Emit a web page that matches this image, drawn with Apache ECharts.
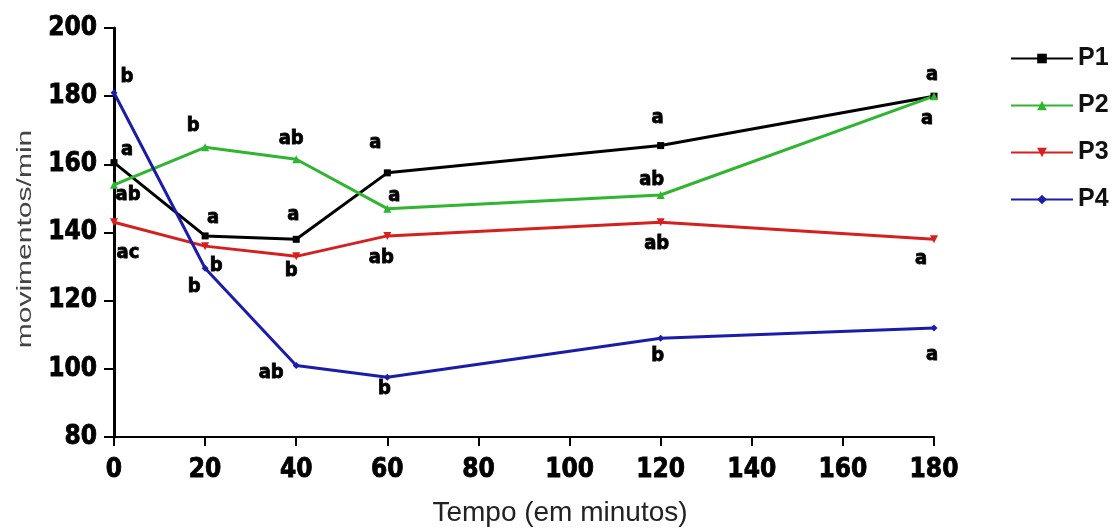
<!DOCTYPE html>
<html>
<head>
<meta charset="utf-8">
<script src="https://cdn.jsdelivr.net/npm/echarts@6/dist/echarts.min.js"></script>
<style>
  html, body { margin: 0; padding: 0; background: #fff; }
  #chart { width: 1118px; height: 529px; }
</style>
</head>
<body>
<div id="chart"></div>
<script>
// Sampling times (minutes)
const tempos = [0, 20, 40, 60, 120, 180];

// Movements per minute for each treatment
const p1 = [160.5, 139, 138, 157.5, 165.5, 180];
const p2 = [154, 165, 161.5, 147, 151, 180];
const p3 = [143, 136, 133, 139, 143, 138];
const p4 = [181, 129.5, 101, 97.5, 109, 112];

// Significance letters for each point
const letrasP1 = ['a', 'a', 'a', 'a', 'a', 'a'];
const letrasP2 = ['ab', 'b', 'ab', 'a', 'ab', 'a'];
const letrasP3 = ['ac', 'b', 'b', 'ab', 'ab', 'a'];
const letrasP4 = ['b', 'b', 'ab', 'b', 'b', 'a'];

// Axis ticks and titles
const xTicks = [0, 20, 40, 60, 80, 100, 120, 140, 160, 180];
const yTicks = [80, 100, 120, 140, 160, 180, 200];
const xTitle = 'Tempo (em minutos)';
const yTitle = 'movimentos/min';

// Letter placement relative to each point (pixels)
const letterOffsets = {
  P1: [[13, -13], [8, -18], [-3, -25], [-12, -30], [-3, -28], [-2, -21]],
  P2: [[14, 10], [-12, -21], [-5, -20], [7, -13], [-9, -15], [-7, 23]],
  P3: [[14, 31], [11, 20], [-5, 14], [-6, 22], [-4, 22], [-13, 19]],
  P4: [[13, -16], [-11, 19], [-25, 7], [-3, 11], [-3, 18], [-2, 27]]
};

const heavy = 'DejaVu Sans Condensed, DejaVu Sans, sans-serif';
const plain = 'Liberation Sans, Arial, sans-serif';

function buildSeries(name, values, letters, color, symbol, symbolSize, rotate) {
  const offs = letterOffsets[name];
  return {
    name: name,
    type: 'line',
    symbol: symbol,
    symbolSize: symbolSize,
    symbolRotate: rotate || 0,
    lineStyle: { color: color, width: 3 },
    itemStyle: { color: color },
    z: 3,
    data: tempos.map((t, i) => ({
      value: [t, values[i]],
      label: {
        show: true,
        position: 'inside',
        offset: offs[i],
        formatter: letters[i],
        color: '#000',
        fontFamily: heavy,
        fontWeight: 'bold',
        fontSize: 20,
        textBorderColor: '#000',
        textBorderWidth: 0.8
      }
    }))
  };
}

const tickLabel = {
  fontFamily: heavy,
  fontWeight: 'bold',
  fontSize: 26,
  color: '#000',
  textBorderColor: '#000',
  textBorderWidth: 0.8
};

const chart = echarts.init(document.getElementById('chart'));
chart.setOption({
  animation: false,
  backgroundColor: '#fff',
  grid: { left: 114, right: 184, top: 28, bottom: 92, containLabel: false },
  legend: {
    orient: 'vertical',
    left: 1005,
    top: 41,
    itemWidth: 62,
    itemHeight: 12,
    itemGap: 22,
    textStyle: { fontFamily: plain, fontWeight: 'bold', fontSize: 25, color: '#111' },
    data: ['P1', 'P2', 'P3', 'P4']
  },
  graphic: [
    {
      type: 'text',
      x: 560,
      y: 513,
      style: {
        text: xTitle,
        font: '28px ' + plain,
        fill: '#222',
        textAlign: 'center',
        textVerticalAlign: 'middle'
      }
    },
    {
      type: 'text',
      x: 25,
      y: 239,
      rotation: Math.PI / 2,
      scaleX: 1.43,
      style: {
        text: yTitle,
        font: '21px ' + plain,
        fill: '#444',
        textAlign: 'center',
        textVerticalAlign: 'middle'
      }
    }
  ],
  xAxis: {
    type: 'value',
    min: 0,
    max: 180,
    interval: 20,
    splitLine: { show: false },
    axisLine: { lineStyle: { color: '#000', width: 2 } },
    axisTick: { length: 9, lineStyle: { color: '#000', width: 2 } },
    axisLabel: Object.assign({ margin: 20, customValues: xTicks }, tickLabel)
  },
  yAxis: {
    type: 'value',
    min: 80,
    max: 200,
    interval: 20,
    splitLine: { show: false },
    axisLine: { show: true, lineStyle: { color: '#000', width: 3 } },
    axisTick: { show: true, length: 10, lineStyle: { color: '#000', width: 2 } },
    axisLabel: Object.assign({ margin: 17, customValues: yTicks }, tickLabel)
  },
  series: [
    buildSeries('P1', p1, letrasP1, '#000000', 'rect', 7),
    buildSeries('P2', p2, letrasP2, '#2fb52f', 'triangle', 8),
    buildSeries('P3', p3, letrasP3, '#d61f1f', 'triangle', 8, 180),
    buildSeries('P4', p4, letrasP4, '#1c1caa', 'diamond', 7)
  ]
});
</script>
</body>
</html>
